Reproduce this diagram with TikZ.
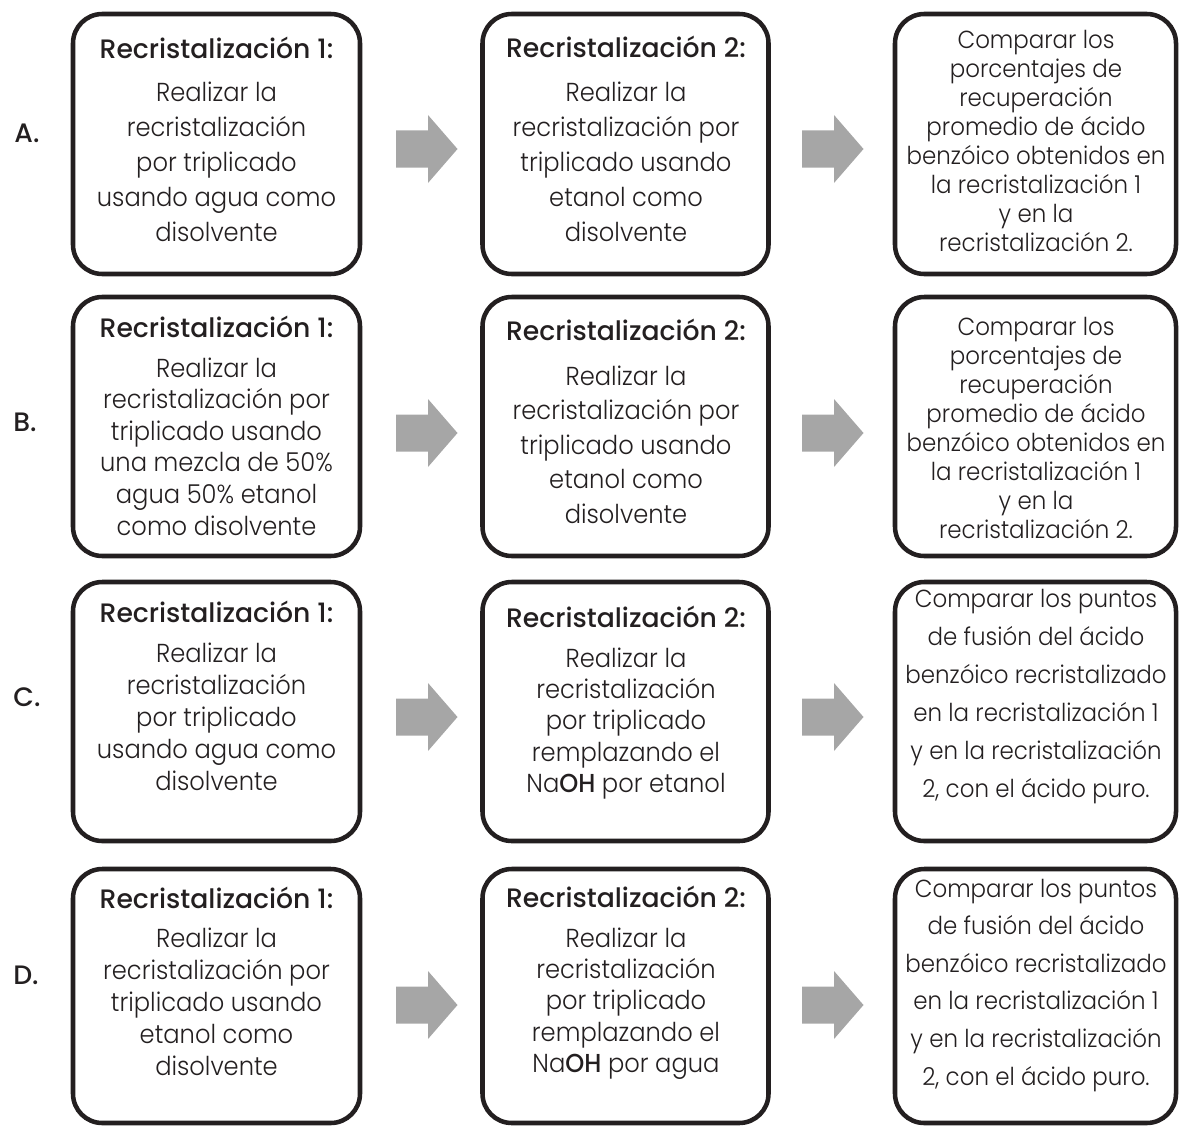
\documentclass[tikz,border=0pt]{standalone}
\usepackage{fontspec}
\setmainfont{Poppins}[UprightFont=* Light, BoldFont=* Medium, FakeStretch=0.93]
\newfontfamily\headfont{Poppins}[UprightFont=* Medium]
\usetikzlibrary{fit}

\definecolor{ink}{HTML}{231F20}
\definecolor{arrowfill}{HTML}{A6A6A6}

% one unit = one pixel of the 1180 x 1127 layout, y grows downwards
\tikzset{
  x=0.75pt, y=-0.75pt,
  stepbox/.style={draw=ink, line width=3.4pt, rounded corners=22pt,
    inner sep=0pt, rectangle},
  boxtext/.style={anchor=base, inner sep=0pt, text=ink},
  rowlabel/.style={anchor=center, inner sep=0pt, text=ink,
    font=\headfont\fontsize{20}{24}\selectfont},
  pics/blockarrow/.style={code={
    \fill[arrowfill] (0,-18.5) -- (32,-18.5) -- (32,-34) -- (61.5,0)
      -- (32,34) -- (32,18.5) -- (0,18.5) -- cycle;}}
}

% text block with heading: pitch, heading, extra gap after heading
\newcommand\steptext[3]{\fontsize{19.5}{#1}\selectfont
  \begin{tabular}[t]{@{}c@{}}{\headfont\fontsize{20}{24}\selectfont #2}\\[#3]}
\newcommand\stependtext{\end{tabular}}
% plain text block: pitch
\newcommand\plaintext[1]{\fontsize{18.5}{#1}\selectfont\begin{tabular}[t]{@{}c@{}}}

\begin{document}
\begin{tikzpicture}
\useasboundingbox (0,0) rectangle (1180,1127);

% ---------- row labels ----------
\node[rowlabel] (lA) at (27,133) {A.};
\node[rowlabel] (lB) at (25,422) {B.};
\node[rowlabel] (lC) at (27,697) {C.};
\node[rowlabel] (lD) at (26,975) {D.};

% ---------- boxes ----------
\node[stepbox, fit={(73,14) (360,274)}]      (a1) {};
\node[stepbox, fit={(482.5,14) (768.5,274)}] (a2) {};
\node[stepbox, fit={(895,14) (1176,274)}]    (a3) {};

\node[stepbox, fit={(73,297) (360,556)}]      (b1) {};
\node[stepbox, fit={(482.5,297) (768.5,556)}] (b2) {};
\node[stepbox, fit={(895,297) (1176,556)}]    (b3) {};

\node[stepbox, fit={(73,582) (360,841)}]      (c1) {};
\node[stepbox, fit={(482.5,582) (768.5,841)}] (c2) {};
\node[stepbox, fit={(895,582) (1176,841)}]    (c3) {};

\node[stepbox, fit={(73,869) (360,1123)}]      (d1) {};
\node[stepbox, fit={(482.5,869) (768.5,1123)}] (d2) {};
\node[stepbox, fit={(895,869) (1176,1123)}]    (d3) {};

% ---------- arrows ----------
\pic (arA1) at (396,149)  {blockarrow};
\pic (arA2) at (802,149)  {blockarrow};
\pic (arB1) at (396,433)  {blockarrow};
\pic (arB2) at (802,433)  {blockarrow};
\pic (arC1) at (396,717)  {blockarrow};
\pic (arC2) at (802,717)  {blockarrow};
\pic (arD1) at (396,1005) {blockarrow};
\pic (arD2) at (802,1005) {blockarrow};

% ---------- row A ----------
\node[boxtext] (a1t) at (216.5,59) {\steptext{26.25pt}{Recristalización 1:}{6pt}
  Realizar la\\ recristalización\\ por triplicado\\ usando agua como\\ disolvente\stependtext};
\node[boxtext] (a2t) at (626,58) {\steptext{26.25pt}{Recristalización 2:}{6.75pt}
  Realizar la\\ recristalización por\\ triplicado usando\\ etanol como\\ disolvente\stependtext};
\node[boxtext] (a3t) at (1036,49) {\plaintext{21.75pt}Comparar los\\ porcentajes de\\
  recuperación\\ promedio de ácido\\ benzóico obtenidos en\\ la recristalización 1\\
  y en la\\ recristalización 2.\end{tabular}};

% ---------- row B ----------
\node[boxtext] (b1t) at (216.5,337) {\steptext{23.7pt}{Recristalización 1:}{6.3pt}
  Realizar la\\ recristalización por\\ triplicado usando\\ una mezcla de 50\%\\
  agua 50\% etanol\\ como disolvente\stependtext};
\node[boxtext] (b2t) at (626,340) {\steptext{25.9pt}{Recristalización 2:}{7.9pt}
  Realizar la\\ recristalización por\\ triplicado usando\\ etanol como\\ disolvente\stependtext};
\node[boxtext] (b3t) at (1036,335) {\plaintext{21.75pt}Comparar los\\ porcentajes de\\
  recuperación\\ promedio de ácido\\ benzóico obtenidos en\\ la recristalización 1\\
  y en la\\ recristalización 2.\end{tabular}};

% ---------- row C ----------
\node[boxtext] (c1t) at (216.5,622) {\steptext{24pt}{Recristalización 1:}{6pt}
  Realizar la\\ recristalización\\ por triplicado\\ usando agua como\\ disolvente\stependtext};
\node[boxtext] (c2t) at (626,627) {\steptext{23.6pt}{Recristalización 2:}{6.4pt}
  Realizar la\\ recristalización\\ por triplicado\\ remplazando el\\ Na\textbf{OH} por etanol\stependtext};
\node[boxtext] (c3t) at (1036,607) {\plaintext{28.5pt}Comparar los puntos\\
  de fusión del ácido\\ benzóico recristalizado\\ en la recristalización 1\\
  y en la recristalización\\ 2, con el ácido puro.\end{tabular}};

% ---------- row D ----------
\node[boxtext] (d1t) at (216.5,908) {\steptext{24pt}{Recristalización 1:}{5.25pt}
  Realizar la\\ recristalización por\\ triplicado usando\\ etanol como\\ disolvente\stependtext};
\node[boxtext] (d2t) at (626,907) {\steptext{23.6pt}{Recristalización 2:}{6.4pt}
  Realizar la\\ recristalización\\ por triplicado\\ remplazando el\\ Na\textbf{OH} por agua\stependtext};
\node[boxtext] (d3t) at (1036,897) {\plaintext{28.2pt}Comparar los puntos\\
  de fusión del ácido\\ benzóico recristalizado\\ en la recristalización 1\\
  y en la recristalización\\ 2, con el ácido puro.\end{tabular}};
\end{tikzpicture}
\end{document}
